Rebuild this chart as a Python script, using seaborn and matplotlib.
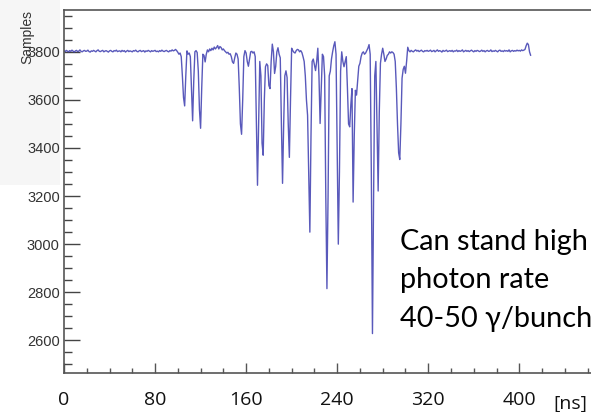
import numpy as np
import pandas as pd
import matplotlib
matplotlib.use("Agg")
import matplotlib.pyplot as plt
import seaborn as sns
from matplotlib.ticker import MultipleLocator

# ---- data (1 ns sampling, 0..410 ns) ----
samples = [
    # 0-19
    3804, 3801, 3806, 3803, 3800, 3805, 3802, 3807, 3803, 3799, 3804, 3806, 3801, 3803, 3808, 3802, 3800, 3804, 3806, 3802,
    # 20-39
    3803, 3807, 3801, 3799, 3804, 3802, 3806, 3803, 3800, 3805, 3808, 3802, 3801, 3804, 3806, 3800, 3803, 3805, 3802, 3799,
    # 40-59
    3804, 3806, 3802, 3800, 3805, 3803, 3807, 3801, 3803, 3804, 3800, 3806, 3802, 3805, 3799, 3803, 3806, 3801, 3804, 3802,
    # 60-79
    3800, 3805, 3803, 3807, 3802, 3800, 3804, 3806, 3801, 3803, 3805, 3799, 3804, 3802, 3806, 3803, 3800, 3805, 3802, 3804,
    # 80-99
    3806, 3801, 3803, 3800, 3805, 3802, 3807, 3803, 3801, 3804, 3806, 3802, 3800, 3805, 3803, 3808, 3804, 3806, 3810, 3805,
    # 100-119
    3798, 3790, 3795, 3780, 3700, 3610, 3575, 3700, 3804, 3790, 3795, 3780, 3640, 3513, 3680, 3800, 3805, 3797, 3720, 3560,
    # 120-139
    3482, 3650, 3790, 3785, 3758, 3790, 3808, 3800, 3812, 3805, 3815, 3808, 3820, 3812, 3818, 3826, 3812, 3822, 3818, 3808,
    # 140-159
    3812, 3805, 3800, 3795, 3798, 3790, 3792, 3780, 3758, 3752, 3775, 3795, 3790, 3770, 3650, 3500, 3457, 3600, 3780, 3805,
    # 160-179
    3795, 3760, 3740, 3770, 3800, 3802, 3795, 3800, 3780, 3500, 3245, 3500, 3760, 3700, 3420, 3370, 3600, 3738, 3750, 3743,
    # 180-199
    3660, 3647, 3760, 3832, 3800, 3710, 3740, 3800, 3817, 3790, 3775, 3500, 3253, 3500, 3700, 3721, 3693, 3500, 3361, 3600,
    # 200-219
    3815, 3805, 3798, 3795, 3805, 3810, 3808, 3800, 3805, 3797, 3780, 3760, 3700, 3600, 3536, 3300, 3050, 3450, 3760, 3770,
    # 220-239
    3745, 3722, 3760, 3815, 3700, 3502, 3650, 3790, 3780, 3700, 3200, 2815, 3200, 3700, 3720, 3770, 3800, 3825, 3842, 3790,
    # 240-259
    3400, 3000, 3300, 3720, 3800, 3760, 3738, 3760, 3780, 3650, 3500, 3488, 3580, 3647, 3175, 3450, 3640, 3620, 3680, 3740,
    # 260-279
    3752, 3780, 3795, 3800, 3790, 3795, 3805, 3815, 3830, 3790, 3300, 2628, 3200, 3700, 3760, 3500, 3221, 3550, 3752, 3790,
    # 280-299
    3815, 3790, 3760, 3770, 3785, 3790, 3800, 3795, 3800, 3797, 3790, 3760, 3650, 3500, 3380, 3352, 3500, 3690, 3727, 3740,
    # 300-319
    3711, 3760, 3819, 3805, 3800, 3806, 3802, 3800, 3805, 3808, 3803, 3806, 3801, 3804, 3807, 3802, 3800, 3805, 3803, 3806,
    # 320-339
    3802, 3804, 3807, 3801, 3803, 3806, 3800, 3804, 3808, 3802, 3805, 3803, 3799, 3806, 3802, 3804, 3807, 3801, 3803, 3805,
    # 340-359
    3802, 3806, 3800, 3804, 3803, 3807, 3801, 3805, 3802, 3804, 3808, 3800, 3803, 3806, 3802, 3805, 3801, 3804, 3807, 3803,
    # 360-379
    3800, 3805, 3802, 3806, 3804, 3801, 3803, 3807, 3802, 3805, 3800, 3804, 3806, 3802, 3803, 3808, 3801, 3804, 3802, 3806,
    # 380-399
    3803, 3800, 3805, 3807, 3802, 3804, 3801, 3806, 3803, 3805, 3802, 3808, 3800, 3804, 3806, 3802, 3805, 3803, 3807, 3804,
    # 400-410
    3806, 3803, 3808, 3805, 3807, 3810, 3825, 3836, 3830, 3800, 3785,
]
time_ns = np.arange(len(samples))

x_ticks = [0, 80, 160, 240, 320, 400]
x_tick_labels = ["0", "80", "160", "240", "320", "400"]
y_ticks = [2600, 2800, 3000, 3200, 3400, 3600, 3800]
annotation_lines = ["Can stand high", "photon rate", "40-50 \u03b3/bunch"]

df = pd.DataFrame({"t": time_ns, "s": samples})

# ---- figure ----
sns.set_style("white")
plt.rcParams["font.family"] = ["Liberation Sans", "DejaVu Sans"]

W, H = 591, 412
fig = plt.figure(figsize=(W / 100, H / 100), dpi=100)

# light grey slide patch at top left (behind everything)
grey = plt.Rectangle((0, 1 - 185 / H), 60 / W, 185 / H,
                     transform=fig.transFigure, facecolor="#f6f6f6",
                     edgecolor="none", zorder=-10)
fig.add_artist(grey)

ax_left, ax_right = 64 / W, 1.0
ax_bottom, ax_top = 1 - 373 / H, 1 - 10 / H
ax = fig.add_axes([ax_left, ax_bottom, ax_right - ax_left, ax_top - ax_bottom])
ax.set_facecolor("none")
ax.set_zorder(1)

sns.lineplot(data=df, x="t", y="s", ax=ax, color="#3c3caf", linewidth=1.0, alpha=0.85)

ax.set_xlim(0, 463)
ax.set_ylim(2464, 3974)
ax.set_xlabel("")
ax.set_ylabel("")

for side in ["left", "top", "bottom"]:
    ax.spines[side].set_visible(True)
    ax.spines[side].set_color("#555555")
    ax.spines[side].set_linewidth(1.2)
ax.spines["right"].set_visible(False)

ax.set_yticks(y_ticks)
ax.yaxis.set_minor_locator(MultipleLocator(50))
ax.set_xticks(x_ticks)
ax.set_xticklabels(x_tick_labels)
ax.xaxis.set_minor_locator(MultipleLocator(20))

ax.tick_params(axis="y", which="major", direction="in", length=11.5, width=1.0,
               color="#444444", labelsize=10.5, labelcolor="#333333", pad=3, left=True)
ax.tick_params(axis="y", which="minor", direction="in", length=5.8, width=1.0,
               color="#444444", left=True)
ax.tick_params(axis="x", which="major", direction="in", length=7, width=1.0,
               color="#555555", labelsize=14, labelcolor="#111111", pad=13, bottom=True)
ax.tick_params(axis="x", which="minor", direction="in", length=3.5, width=1.0,
               color="#555555", bottom=True)
for lbl in ax.get_xticklabels():
    lbl.set_family(["Open Sans", "DejaVu Sans"])

fig.text(20 / W, 1 - 10 / H, "Samples", rotation=90, ha="left", va="top",
         fontsize=10, color="#333333", zorder=5)

fig.text(553 / W, 1 - 395 / H, "[ns]", ha="left", va="top", fontsize=14,
         color="#111111", family=["Open Sans", "DejaVu Sans"])

baselines = [250, 288.3, 326.7]
for line, yb in zip(annotation_lines, baselines):
    fig.text(400 / W, 1 - yb / H, line, ha="left", va="baseline",
             fontsize=20.8, color="#000000", family=["Lato", "DejaVu Sans"], zorder=5)

fig.savefig("out.png", dpi=100)
